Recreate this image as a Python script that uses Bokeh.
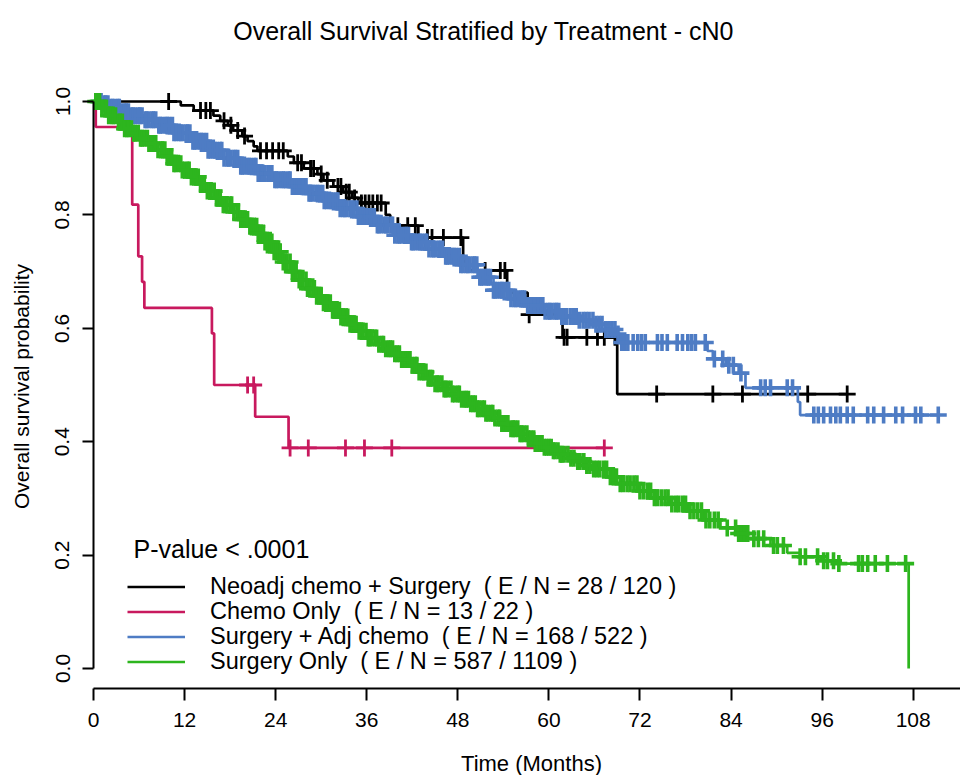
import numpy as np
from bokeh.plotting import figure
from bokeh.models import (Range1d, LinearAxis, FixedTicker, Label, Legend, LegendItem,
                          PrintfTickFormatter)
from bokeh.embed import file_html
from bokeh.resources import INLINE

# ---------------- data ----------------
title_text = "Overall Survival Stratified by Treatment - cN0"
x_label = "Time (Months)"
y_label = "Overall survival probability"
x_ticks = [0, 12, 24, 36, 48, 60, 72, 84, 96, 108]
y_ticks = [0.0, 0.2, 0.4, 0.6, 0.8, 1.0]
p_value_text = "P-value < .0001"

group_names = ["Neoadj chemo + Surgery", "Chemo Only", "Surgery + Adj chemo", "Surgery Only"]
group_events = [28, 13, 168, 587]
group_n = [120, 22, 522, 1109]
group_colors = ["#000000", "#C8195E", "#4E7CC4", "#2DB51E"]
group_mark_width = [2.8, 2.8, 3.6, 3.6]

# Neoadj chemo + Surgery
neo_event_time = [11.5, 13.2, 15.8, 16.7, 17.7, 18.4, 19.6, 20.3, 21.1, 21.6, 25.6, 26.4, 27.7, 29.5,
                  30.3, 31.6, 32.9, 34.1, 34.9, 38.5, 39.1, 42.8, 48.7, 49.4, 54.5, 57.2, 61.8, 69.0]
neo_event_surv = [0.993, 0.984, 0.975, 0.966, 0.958, 0.949, 0.939, 0.930, 0.921, 0.913, 0.903, 0.892,
                  0.882, 0.872, 0.861, 0.850, 0.840, 0.830, 0.821, 0.800, 0.781, 0.760, 0.718, 0.702,
                  0.663, 0.624, 0.584, 0.484]
neo_censor_time = [9.9, 14.1, 14.8, 15.4, 17.2, 18.1, 19.0, 19.9, 22.0, 22.8, 23.6, 24.4, 25.0, 26.9,
                   27.4, 28.6, 29.0, 30.0, 30.8, 32.2, 32.6, 33.3, 33.7, 34.4, 35.3, 35.8, 36.3, 36.8,
                   37.4, 37.9, 40.1, 41.4, 42.4, 44.0, 44.6, 46.1, 48.4, 51.6, 53.6, 54.2, 57.4, 62.0,
                   62.4, 65.0, 66.4, 67.3, 68.7, 74.2, 81.6, 85.5, 94.1, 99.3]

# Chemo Only
chemo_event_time = [0.3, 5.1, 5.9, 6.4, 6.7, 15.6, 15.9, 21.3, 25.7]
chemo_event_surv = [0.955, 0.818, 0.727, 0.682, 0.636, 0.591, 0.500, 0.444, 0.389]
chemo_censor_time = [20.3, 21.1, 25.9, 28.3, 33.2, 35.7, 39.3, 67.3]

# Surgery + Adj chemo
adj_event_time = [1.3, 2.2, 3.6, 4.9, 6.6, 8.4, 10.5, 12.8, 15.0, 17.1, 19.4, 21.6, 23.7, 26.0, 28.2,
                  30.3, 32.5, 34.8, 37.2, 39.5, 41.8, 44.0, 46.1, 48.4, 50.6, 52.7, 54.9, 57.2, 59.3,
                  61.5, 63.8, 65.9, 67.5, 69.0, 69.4, 80.9, 81.6, 83.3, 85.0, 85.9, 92.8, 93.1]
adj_event_surv = [0.996, 0.990, 0.982, 0.975, 0.968, 0.958, 0.945, 0.930, 0.914, 0.900, 0.886, 0.873,
                  0.862, 0.850, 0.838, 0.825, 0.811, 0.797, 0.782, 0.764, 0.752, 0.740, 0.727, 0.712,
                  0.690, 0.667, 0.652, 0.640, 0.630, 0.621, 0.614, 0.607, 0.598, 0.590, 0.575, 0.560,
                  0.546, 0.535, 0.521, 0.495, 0.470, 0.447]
adj_censor_time = [0.7, 1.0, 1.4, 1.6, 1.9, 2.3, 2.5, 2.8, 3.2, 3.4, 3.7, 4.1, 4.3, 4.6, 5.0, 5.2, 5.5,
                   5.9, 6.1, 6.4, 6.8, 7.0, 7.3, 7.7, 7.9, 8.2, 8.6, 8.8, 9.1, 9.5, 9.7, 10.0, 10.4,
                   10.6, 10.9, 11.3, 11.5, 11.8, 12.2, 12.4, 12.7, 13.1, 13.3, 13.6, 14.0, 14.2, 14.5,
                   14.9, 15.1, 15.4, 15.8, 16.0, 16.3, 16.7, 16.9, 17.2, 17.6, 17.8, 18.1, 18.5, 18.7,
                   19.0, 19.4, 19.6, 19.9, 20.3, 20.5, 20.8, 21.2, 21.4, 21.7, 22.1, 22.3, 22.6, 23.0,
                   23.2, 23.5, 23.9, 24.1, 24.4, 24.8, 25.0, 25.3, 25.7, 25.9, 26.2, 26.6, 26.8, 27.1,
                   27.5, 27.7, 28.0, 28.4, 28.6, 28.9, 29.3, 29.5, 29.8, 30.2, 30.4, 30.7, 31.1, 31.3,
                   31.6, 32.0, 32.2, 32.5, 32.9, 33.1, 33.4, 33.8, 34.0, 34.3, 34.7, 34.9, 35.2, 35.6,
                   35.8, 36.1, 36.5, 36.7, 37.0, 37.4, 37.6, 37.9, 38.3, 38.5, 38.8, 39.2, 39.4, 39.7,
                   40.1, 40.3, 40.6, 41.0, 41.2, 41.5, 41.9, 42.1, 42.4, 42.8, 43.0, 43.3, 43.7, 43.9,
                   44.2, 44.6, 44.8, 45.1, 45.5, 45.7, 46.0, 46.4, 46.6, 46.9, 47.3, 47.5, 47.8, 48.2,
                   48.4, 48.7, 49.1, 49.3, 49.6, 50.0, 50.2, 50.5, 50.9, 51.1, 51.4, 51.8, 52.0, 52.3,
                   52.7, 52.9, 53.2, 53.6, 53.8, 54.1, 54.5, 54.7, 55.0, 55.4, 55.6, 55.9, 56.3, 56.5,
                   56.8, 57.2, 57.4, 57.7, 58.1, 58.3, 58.6, 59.0, 59.2, 59.5, 59.9, 60.1, 60.4, 60.8,
                   61.0, 61.3, 61.7, 62.0, 62.3, 62.8, 63.2, 63.6, 64.0, 64.5, 64.9, 65.3, 65.8, 66.2,
                   66.6, 67.0, 67.5, 67.9, 68.3, 68.7, 69.1, 69.6, 70.0, 70.4, 71.1, 71.7, 72.2, 72.7,
                   74.3, 74.9, 75.6, 76.9, 77.6, 78.3, 78.8, 79.3, 80.6, 81.8, 82.9, 83.7, 84.3, 85.3,
                   87.9, 88.5, 89.2, 91.4, 92.1, 94.9, 95.5, 96.2, 97.1, 97.8, 98.4, 99.3, 100.1, 102.0,
                   102.8, 104.1, 105.7, 106.6, 108.3, 109.0, 111.3]

# Surgery Only
surg_event_time = [1.0, 2.0, 3.0, 4.0, 5.1, 6.2, 7.3, 8.4, 9.5, 10.5, 11.7, 12.8, 13.9, 15.0, 16.0, 17.1,
                   18.3, 19.4, 20.5, 21.6, 22.6, 23.7, 24.9, 26.0, 27.1, 28.2, 29.2, 30.3, 31.4, 32.5,
                   33.6, 34.8, 36.1, 37.4, 38.4, 39.5, 40.6, 41.8, 42.9, 44.0, 45.0, 46.1, 47.2, 48.4,
                   49.5, 50.6, 51.6, 52.7, 53.8, 54.9, 56.0, 57.2, 58.2, 59.3, 60.4, 61.5, 62.6, 63.8,
                   64.8, 65.9, 67.7, 69.4, 71.7, 73.8, 76.0, 78.3, 80.4, 82.6, 84.8, 87.0, 89.2, 91.4,
                   93.1, 95.8, 98.0, 107.4]
surg_event_surv = [0.988, 0.975, 0.964, 0.952, 0.944, 0.935, 0.926, 0.915, 0.903, 0.890, 0.879, 0.867,
                   0.855, 0.842, 0.830, 0.818, 0.805, 0.792, 0.780, 0.767, 0.752, 0.735, 0.717, 0.700,
                   0.685, 0.670, 0.657, 0.645, 0.632, 0.620, 0.607, 0.595, 0.583, 0.572, 0.564, 0.555,
                   0.545, 0.535, 0.523, 0.512, 0.502, 0.493, 0.484, 0.475, 0.467, 0.458, 0.450, 0.442,
                   0.432, 0.423, 0.414, 0.405, 0.397, 0.390, 0.384, 0.378, 0.371, 0.365, 0.358, 0.352,
                   0.338, 0.326, 0.313, 0.301, 0.290, 0.278, 0.262, 0.248, 0.238, 0.229, 0.217, 0.204,
                   0.197, 0.190, 0.185, 0.0]
surg_censor_time = [0.3, 0.6, 0.8, 1.1, 1.5, 1.7, 2.0, 2.4, 2.6, 2.9, 3.3, 3.5, 3.8, 4.1, 4.4, 4.6, 5.0,
                    5.3, 5.5, 5.9, 6.2, 6.4, 6.7, 7.1, 7.3, 7.6, 8.0, 8.2, 8.5, 8.9, 9.1, 9.4, 9.7, 10.0,
                    10.3, 10.6, 10.8, 11.2, 11.5, 11.7, 12.0, 12.4, 12.6, 12.9, 13.3, 13.5, 13.8, 14.1,
                    14.4, 14.6, 15.0, 15.3, 15.5, 15.9, 16.2, 16.4, 16.7, 17.1, 17.3, 17.6, 18.0, 18.2,
                    18.5, 18.9, 19.1, 19.4, 19.7, 20.0, 20.3, 20.6, 20.8, 21.2, 21.5, 21.7, 22.0, 22.4,
                    22.6, 22.9, 23.3, 23.5, 23.8, 24.1, 24.4, 24.6, 25.0, 25.3, 25.5, 25.9, 26.2, 26.4,
                    26.7, 27.1, 27.3, 27.6, 28.0, 28.2, 28.5, 28.9, 29.1, 29.4, 29.7, 30.0, 30.3, 30.6,
                    30.8, 31.2, 31.5, 31.7, 32.0, 32.4, 32.6, 32.9, 33.3, 33.5, 33.8, 34.1, 34.4, 34.6,
                    35.0, 35.3, 35.5, 35.9, 36.2, 36.4, 36.7, 37.1, 37.3, 37.6, 38.0, 38.2, 38.5, 38.9,
                    39.1, 39.4, 39.7, 40.0, 40.3, 40.6, 40.8, 41.2, 41.5, 41.7, 42.0, 42.4, 42.6, 42.9,
                    43.3, 43.5, 43.8, 44.1, 44.4, 44.6, 45.0, 45.3, 45.5, 45.9, 46.2, 46.4, 46.7, 47.1,
                    47.3, 47.6, 48.0, 48.2, 48.5, 48.9, 49.1, 49.4, 49.7, 50.0, 50.3, 50.6, 50.8, 51.2,
                    51.5, 51.7, 52.0, 52.4, 52.6, 52.9, 53.3, 53.5, 53.8, 54.1, 54.4, 54.6, 55.0, 55.3,
                    55.5, 55.9, 56.2, 56.4, 56.7, 57.1, 57.3, 57.6, 58.0, 58.2, 58.5, 58.9, 59.1, 59.4,
                    59.7, 60.0, 60.3, 60.6, 60.8, 61.2, 61.5, 61.7, 62.0, 62.5, 62.9, 63.3, 63.8, 64.1,
                    64.6, 65.0, 65.4, 65.9, 66.3, 66.7, 67.2, 67.6, 68.1, 68.5, 68.9, 69.4, 69.8, 70.3,
                    70.7, 71.2, 71.6, 72.0, 72.5, 73.0, 73.4, 73.9, 74.3, 74.8, 75.3, 75.7, 76.2, 76.7,
                    77.1, 77.6, 78.0, 78.6, 79.1, 79.6, 80.1, 80.7, 81.2, 81.8, 82.3, 83.5, 84.6, 85.0,
                    85.4, 85.8, 86.2, 87.0, 87.6, 88.3, 89.6, 90.1, 90.9, 93.1, 93.8, 95.4, 96.2, 96.7,
                    97.5, 98.2, 100.8, 101.3, 102.0, 103.0, 104.6, 107.0]

# ---------------- helpers ----------------
def km_path(ev_t, ev_s, cens_t):
    end = max(max(cens_t), ev_t[-1])
    xs = [0.0] + list(ev_t) + [end]
    ys = [1.0] + list(ev_s) + [ev_s[-1]]
    return np.array(xs), np.array(ys)


def surv_at(xs, ys, times):
    idx = np.searchsorted(xs, np.asarray(times), side="right") - 1
    return ys[idx]


FONT = "Liberation Sans"
W, H = 960, 775
PX_PER_MONTH = 7.59      # horizontal scale of the reference
PX_PER_UNIT = 567.0      # vertical scale of the reference
X0_PX, Y0_PX = 93, 668   # canvas position of (0, 0)
X_AXIS_PX = 688          # canvas row of the time axis

x_start = -X0_PX / PX_PER_MONTH
x_end = (W - X0_PX) / PX_PER_MONTH
y_top = Y0_PX / PX_PER_UNIT
y_bottom = (Y0_PX - H) / PX_PER_UNIT
x_axis_at = (Y0_PX - X_AXIS_PX) / PX_PER_UNIT

p = figure(width=W, height=H, x_range=Range1d(x_start, x_end), y_range=Range1d(y_bottom, y_top),
           output_backend="svg", toolbar_location=None, x_axis_type=None, y_axis_type=None,
           min_border_left=0, min_border_right=0, min_border_top=0, min_border_bottom=0)
p.grid.visible = False
p.outline_line_color = None
p.background_fill_color = "white"
p.border_fill_color = "white"

xaxis = LinearAxis(ticker=FixedTicker(ticks=x_ticks), fixed_location=x_axis_at, bounds=(0, x_end))
yaxis = LinearAxis(ticker=FixedTicker(ticks=y_ticks), fixed_location=0, bounds=(0, 1),
                   formatter=PrintfTickFormatter(format="%.1f"), major_label_orientation="parallel")
for ax, tick_out in ((xaxis, 12), (yaxis, 11)):
    ax.axis_line_width = 2
    ax.axis_line_color = "black"
    ax.major_tick_line_width = 2
    ax.major_tick_line_color = "black"
    ax.major_tick_out = tick_out
    ax.major_tick_in = 0
    ax.minor_tick_out = 0
    ax.minor_tick_in = 0
    ax.major_label_text_font = FONT
    ax.major_label_text_font_size = "21px"
    ax.major_label_text_color = "black"
xaxis.major_label_standoff = 12
yaxis.major_label_standoff = 13
p.add_layout(xaxis, "below")
p.add_layout(yaxis, "left")

groups = [
    (neo_event_time, neo_event_surv, neo_censor_time),
    (chemo_event_time, chemo_event_surv, chemo_censor_time),
    (adj_event_time, adj_event_surv, adj_censor_time),
    (surg_event_time, surg_event_surv, surg_censor_time),
]

LEGEND_ROW_Y = 586       # canvas row of the first legend entry
LEGEND_ROW_STEP = 25
for i, ((ev_t, ev_s, cens_t), name, e, n, col, mw) in enumerate(
        zip(groups, group_names, group_events, group_n, group_colors, group_mark_width)):
    xs, ys = km_path(ev_t, ev_s, cens_t)
    r = p.step(xs, ys, mode="after", line_color=col, line_width=2.7)
    p.scatter(cens_t, surv_at(xs, ys, cens_t), marker="cross", size=17,
              line_color=col, line_width=mw)
    item = LegendItem(label=f"{name}  ( E / N = {e} / {n} )", renderers=[r])
    row_y = LEGEND_ROW_Y + LEGEND_ROW_STEP * i
    legend = Legend(items=[item], location=(127, H - (row_y + 14)), glyph_width=58, glyph_height=25,
                    label_height=25, label_standoff=25, spacing=0, padding=0, margin=0,
                    border_line_color=None, background_fill_alpha=0, label_text_font=FONT,
                    label_text_font_size="23.5px", label_text_color="black")
    p.add_layout(legend, "center")


def screen_label(text, cx, cy, size, align="center", angle=0.0):
    # cx, cy: canvas pixel position (top-left origin) of the text anchor
    return Label(x=cx, y=H - cy, x_units="screen", y_units="screen", text=text, angle=angle,
                 text_align=align, text_baseline="middle", text_font=FONT,
                 text_font_size=size, text_color="black")


p.add_layout(screen_label(title_text, 483, 30, "25px"))
p.add_layout(screen_label(p_value_text, 133, 548, "25px", align="left"))
p.add_layout(screen_label(x_label, 531, 763, "22px"))
p.add_layout(screen_label(y_label, 21, 386, "21px", angle=np.pi / 2))

open("out.html", "w").write(file_html(p, INLINE))
